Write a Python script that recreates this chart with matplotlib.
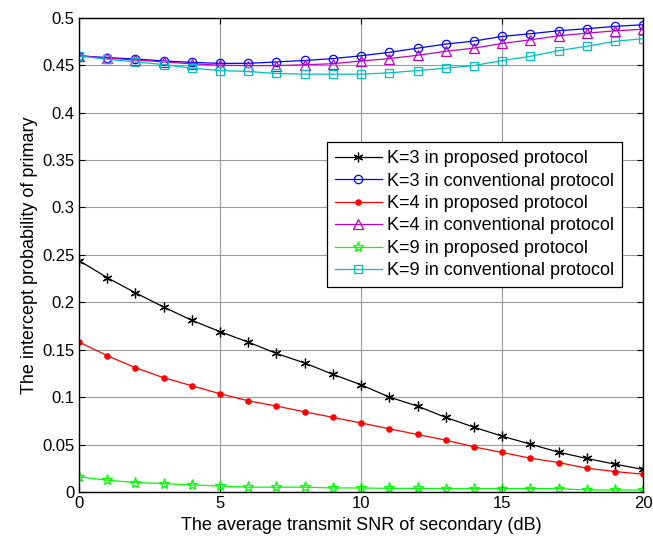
import numpy as np
import matplotlib
matplotlib.use("Agg")
import matplotlib.pyplot as plt

plt.rcParams["font.family"] = ["Liberation Sans", "DejaVu Sans"]

snr = list(range(21))

k3_prop = [0.244, 0.226, 0.210, 0.195, 0.181, 0.169, 0.158, 0.146, 0.136, 0.124, 0.113,
           0.100, 0.0905, 0.0786, 0.0683, 0.0588, 0.0504, 0.0419, 0.0353, 0.0293, 0.0237]
k3_conv = [0.460, 0.458, 0.4566, 0.4545, 0.453, 0.452, 0.452, 0.4535, 0.455, 0.457, 0.460,
           0.4636, 0.468, 0.4723, 0.4755, 0.4804, 0.4832, 0.4864, 0.4885, 0.491, 0.4927]
k4_prop = [0.158, 0.1437, 0.131, 0.1204, 0.112, 0.1035, 0.0961, 0.0905, 0.0845, 0.0786, 0.0727,
           0.0666, 0.0606, 0.0546, 0.0475, 0.0416, 0.0356, 0.031, 0.025, 0.0215, 0.0187]
k4_conv = [0.460, 0.4575, 0.4555, 0.4535, 0.4515, 0.450, 0.4496, 0.4496, 0.4505, 0.4516, 0.4545,
           0.457, 0.4605, 0.4647, 0.468, 0.473, 0.4768, 0.481, 0.4838, 0.4863, 0.488]
k9_prop = [0.0159, 0.0124, 0.0099, 0.0088, 0.0074, 0.0063, 0.005, 0.005, 0.005, 0.0042, 0.0042,
           0.0038, 0.0038, 0.0035, 0.0035, 0.0035, 0.0035, 0.0035, 0.002, 0.002, 0.002]
k9_conv = [0.4597, 0.4563, 0.4535, 0.4507, 0.4469, 0.4444, 0.4434, 0.4413, 0.4406, 0.4406, 0.4406,
           0.442, 0.4444, 0.4469, 0.4497, 0.4549, 0.4594, 0.4654, 0.470, 0.4752, 0.478]

# (values, colour, marker, size, filled, label)
series = [
    (k3_prop, "k", (6, 2, 0), 7, True, "K=3 in proposed protocol"),
    (k3_conv, "b", "o", 6, False, "K=3 in conventional protocol"),
    (k4_prop, "r", "o", 3.8, True, "K=4 in proposed protocol"),
    (k4_conv, "m", "^", 6.5, False, "K=4 in conventional protocol"),
    (k9_prop, "#00ff00", "*", 8, False, "K=9 in proposed protocol"),
    (k9_conv, "c", "s", 6, False, "K=9 in conventional protocol"),
]

fig = plt.figure(figsize=(6.53, 5.40), dpi=100)
ax = fig.add_axes([0.121, 0.089, 0.864, 0.878])

for ys, col, mk, ms, filled, lab in series:
    ax.plot(snr, ys, color=col, marker=mk, markersize=ms,
            markerfacecolor=col if filled else "none", markeredgecolor=col,
            markeredgewidth=0.9, linewidth=0.9, label=lab)

ax.set_xlim(0, 20)
ax.set_ylim(0, 0.5)
ax.set_xticks([0, 5, 10, 15, 20])
ax.set_yticks(np.arange(0, 0.501, 0.05))
ax.set_yticklabels(["0", "0.05", "0.1", "0.15", "0.2", "0.25", "0.3", "0.35", "0.4", "0.45", "0.5"])
ax.grid(True, color="#9a9a9a", linewidth=0.8)
ax.tick_params(direction="in", top=True, right=True, labelsize=12, length=4, pad=3)
for sp in ax.spines.values():
    sp.set_linewidth(1.0)

ax.set_xlabel("The average transmit SNR of secondary (dB)", fontsize=13, labelpad=4)
ax.set_ylabel("The intercept probability of primary", fontsize=13, labelpad=3)

leg = ax.legend(loc="upper right", bbox_to_anchor=(0.963, 0.738), fontsize=13,
                fancybox=False, framealpha=1, edgecolor="k", handlelength=2.6,
                labelspacing=0.3, borderpad=0.45, handletextpad=0.3, borderaxespad=0)
leg.get_frame().set_linewidth(0.9)

fig.savefig("out.png", dpi=100)
